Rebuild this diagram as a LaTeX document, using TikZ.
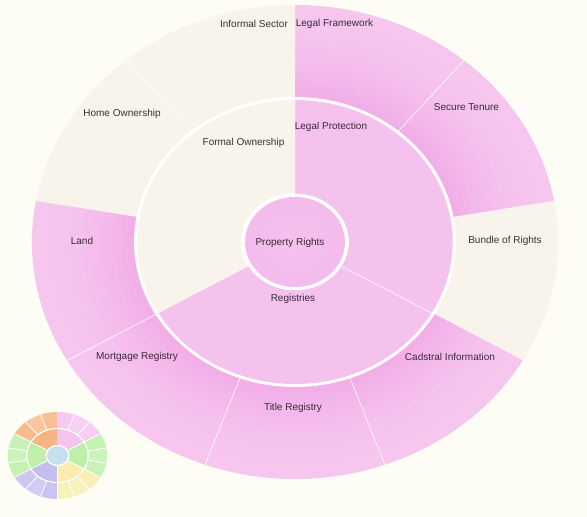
\documentclass[tikz,border=0pt]{standalone}
\usepackage{fontspec}
\setmainfont{Liberation Sans}
\definecolor{bg}{HTML}{FDFCF5}
\definecolor{cream}{HTML}{F8F4EC}
\definecolor{pinkL}{HTML}{F6C6EF}
\definecolor{pinkD}{HTML}{F1AEE7}
\definecolor{pinkM}{HTML}{F4BCEC}
\definecolor{txt}{HTML}{333333}
\definecolor{txtp}{HTML}{3A2838}
\definecolor{morange}{HTML}{F6B480}
\definecolor{mpink}{HTML}{F5C4EE}
\definecolor{mgreen}{HTML}{BFEFAA}
\definecolor{myellow}{HTML}{F8EDAE}
\definecolor{mpurple}{HTML}{C5BDF0}
\definecolor{mblue}{HTML}{C6E0F2}
% annular sector: a1 a2 rin rout style
\newcommand\annsec[5]{\fill[#5] (#1:#3) arc[start angle=#1,end angle=#2,radius=#3] -- (#2:#4) arc[start angle=#2,end angle=#1,radius=#4] -- cycle;}
% graded sector: a1 a2 rin rout innercolor outercolor
\newcommand\gradsec[6]{%
  \foreach \k in {0,...,15}{%
    \pgfmathsetmacro\ro{#4-\k*(#4-#3)/16}%
    \pgfmathsetmacro\pc{100*(\k/15)^2}%
    \fill[#5!\pc!#6] (#1:#3) arc[start angle=#1,end angle=#2,radius=#3] -- (#2:\ro) arc[start angle=#2,end angle=#1,radius=\ro] -- cycle;
  }}
\begin{document}
\begin{tikzpicture}[x=1pt,y=1pt,
  lbl/.style={font=\fontsize{10}{12}\selectfont, text=txt, inner sep=0pt},
  lblp/.style={lbl, text=txtp},
  sep/.style={draw=white, line width=0.7pt, draw opacity=0.85},
  msep/.style={draw=white, line width=0.8pt},
]
\fill[bg] (0,0) rectangle (587,517);
\useasboundingbox (0,0) rectangle (587,517);

% ---------------- main sunburst ----------------
\begin{scope}[shift={(295,275)}, xscale=1.11]
  % outer ring
  \gradsec{90}{50}{145}{237}{pinkD}{pinkL}
  \gradsec{50}{10}{145}{237}{pinkD}{pinkL}
  \annsec{10}{-30}{145}{237}{cream}
  \gradsec{-30}{-70}{145}{237}{pinkD}{pinkL}
  \gradsec{-70}{-110}{145}{237}{pinkD}{pinkL}
  \gradsec{-110}{-150}{145}{237}{pinkD}{pinkL}
  \gradsec{-150}{-190}{145}{237}{pinkD}{pinkL}
  \annsec{170}{130}{145}{237}{cream}
  \annsec{130}{90}{145}{237}{cream}
  \foreach \a in {50,-70,-110,-150,130}{\draw[sep] (\a:145) -- (\a:237);}
  % white gap
  \fill[white] (0,0) circle[radius=145];
  % middle ring
  \gradsec{90}{-30}{49}{142}{pinkL}{pinkL!85!pinkD}
  \gradsec{-30}{-150}{49}{142}{pinkL}{pinkL!85!pinkD}
  \annsec{210}{90}{49}{142}{cream}
  \draw[sep] (-30:49) -- (-30:142);
  % centre
  \gradsec{0}{360}{0}{45}{pinkL!70!pinkM}{pinkM}
\end{scope}

% labels
\node[lbl]  (is) at (254,493.5) {Informal Sector};
\node[lblp] (lf) at (334.5,493.5) {Legal Framework};
\node[lblp] (st) at (466.5,410) {Secure Tenure};
\node[lbl]  (ho) at (122,403) {Home Ownership};
\node[lblp] (lp) at (331,390) {Legal Protection};
\node[lbl]  (fo) at (243.5,374) {Formal Ownership};
\node[lblp] (la) at (82,276) {Land};
\node[lblp] (pr) at (290,274) {Property Rights};
\node[lbl]  (br) at (505,276) {Bundle of Rights};
\node[lblp] (rg) at (293,218) {Registries};
\node[lblp] (mr) at (137,160) {Mortgage Registry};
\node[lblp] (ci) at (450,160) {Cadstral Information};
\node[lblp] (tr) at (293,109.5) {Title Registry};

% ---------------- mini wheel ----------------
\begin{scope}[shift={(57.5,61.5)}, xscale=1.14]
  \foreach \s/\c in {90/mpink,30/mgreen,-30/myellow,-90/mpurple,-150/mgreen,-210/morange}{
    \pgfmathsetmacro\e{\s-60}
    \annsec{\s}{\e}{10.5}{26.5}{\c}
    \pgfmathsetmacro\sa{\s}\pgfmathsetmacro\sb{\s-20}\pgfmathsetmacro\sc{\s-40}
    \annsec{\sa}{\sb}{27.5}{43.5}{\c!90!white}
    \annsec{\sb}{\sc}{27.5}{43.5}{\c!78!white}
    \annsec{\sc}{\e}{27.5}{43.5}{\c!85!white}
    \draw[msep] (\s:10.5) -- (\s:43.5);
    \draw[msep] (\sb:27.5) -- (\sb:43.5);
    \draw[msep] (\sc:27.5) -- (\sc:43.5);
  }
  \draw[white, line width=1pt] (0,0) circle[radius=27];
  \draw[white, line width=1.2pt] (0,0) circle[radius=10];
  \fill[mblue] (0,0) circle[radius=9.3];
\end{scope}
\end{tikzpicture}
\end{document}
